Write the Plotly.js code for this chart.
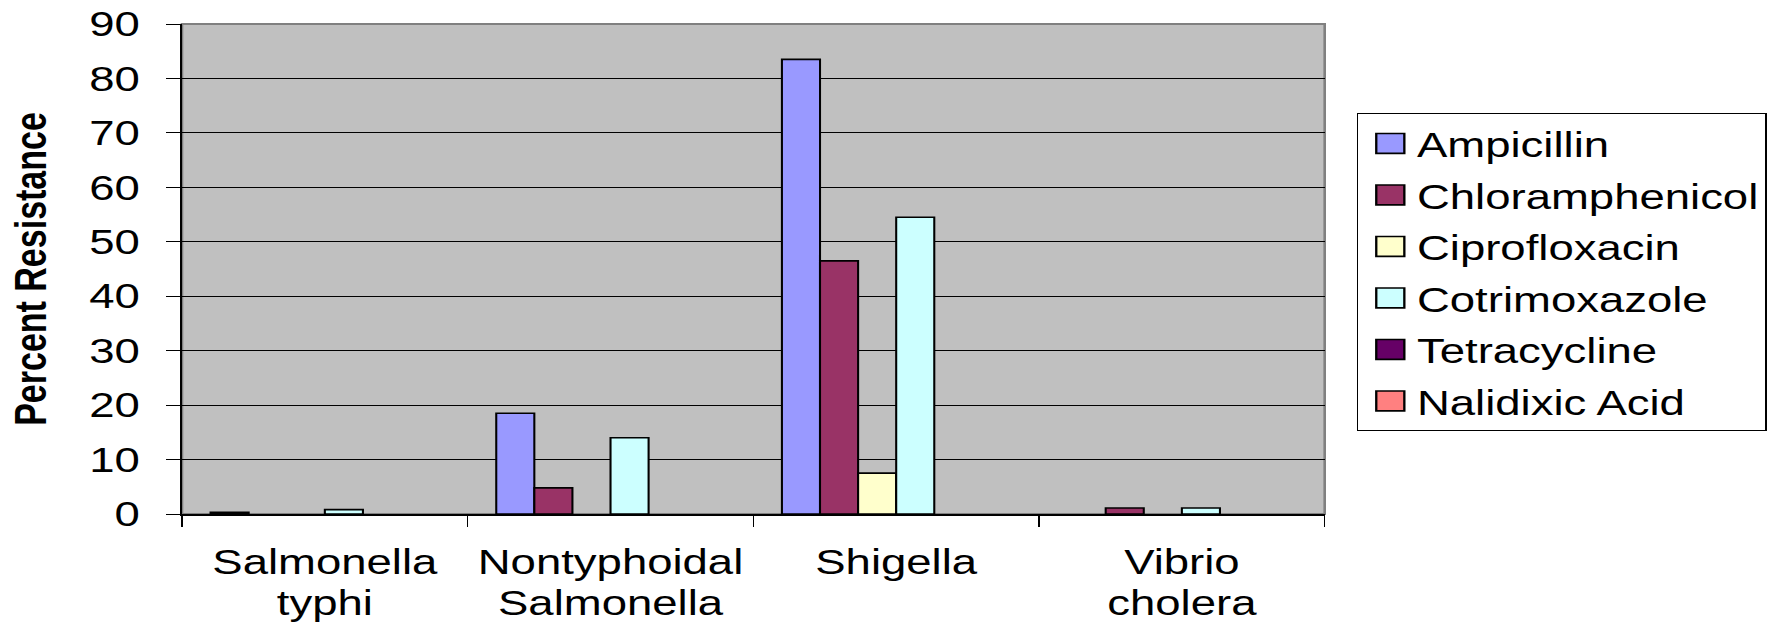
<!DOCTYPE html>
<html>
<head>
<meta charset="utf-8">
<script src="https://cdn.plot.ly/plotly-3.0.1.min.js"></script>
<style>
  html, body { margin: 0; padding: 0; background: #ffffff; overflow: hidden; }
  #wrap { width: 1783px; height: 626px; overflow: hidden; }
  /* chart is laid out narrower and widened horizontally, giving the wide lettering */
  #chart { width: 1372px; height: 626px; transform: scaleX(1.3); transform-origin: 0 0; }
</style>
</head>
<body>
<div id="wrap"><div id="chart"></div></div>
<script>
// Organisms along the x axis
const categories = ["Salmonella<br>typhi", "Nontyphoidal<br>Salmonella", "Shigella", "Vibrio<br>cholera"];

// Percent resistance per antibiotic, one value per organism
const ampicillin      = [0.3, 18.5, 83.5, 0];
const chloramphenicol = [0, 4.8, 46.5, 1.1];
const ciprofloxacin   = [0, 0, 7.5, 0];
const cotrimoxazole   = [0.8, 14, 54.5, 1.1];
const tetracycline    = [0, 0, 0, 0];
const nalidixicAcid   = [0, 0, 0, 0];

const seriesNames  = ["Ampicillin", "Chloramphenicol", "Ciprofloxacin", "Cotrimoxazole", "Tetracycline", "Nalidixic Acid"];
const seriesValues = [ampicillin, chloramphenicol, ciprofloxacin, cotrimoxazole, tetracycline, nalidixicAcid];
const seriesColors = ["#9999FF", "#993366", "#FFFFCC", "#CCFFFF", "#660066", "#FF8080"];

const yTicks = [0, 10, 20, 30, 40, 50, 60, 70, 80, 90];

const FONT = "'Liberation Sans', Arial, sans-serif";

const traces = seriesNames.map((name, i) => ({
  type: "bar",
  name: name,
  x: categories,
  y: seriesValues[i],
  legendgroup: "g" + i,
  marker: {
    color: seriesColors[i],
    // empty bars get no outline, so nothing shows on the baseline
    line: { color: "#000000", width: seriesValues[i].map(v => (v > 0 ? 1.6 : 0)) }
  },
  hoverinfo: "x+y+name"
}));

const layout = {
  width: 1372,
  height: 626,
  margin: { l: 140, r: 353, t: 24, b: 112, pad: 0 },
  paper_bgcolor: "#ffffff",
  plot_bgcolor: "#C0C0C0",
  barmode: "group",
  bargap: 0.2,
  bargroupgap: 0,
  font: { family: FONT, size: 35, color: "#000000" },
  showlegend: true,
  legend: {
    x: 1.0284, xanchor: "left",
    y: 0.818, yanchor: "top",
    bgcolor: "#ffffff",
    bordercolor: "#000000",
    borderwidth: 1,
    font: { family: FONT, size: 35, color: "#000000" },
    traceorder: "grouped",
    tracegroupgap: 3,
    itemwidth: 35
  },
  xaxis: {
    type: "category",
    showline: true, linecolor: "#000000", linewidth: 1.5,
    ticks: "outside", ticklen: 11, tickcolor: "#000000", tickwidth: 1,
    tickson: "boundaries",
    showgrid: false,
    tickfont: { family: FONT, size: 35, color: "#000000" },
    ticklabelstandoff: 17
  },
  yaxis: {
    range: [0, 90],
    tickvals: yTicks,
    ticktext: yTicks.map(String),
    showline: true, linecolor: "#000000", linewidth: 1.5,
    ticks: "outside", ticklen: 11, tickcolor: "#000000", tickwidth: 1,
    showgrid: true, gridcolor: "#000000", gridwidth: 1,
    zeroline: false,
    tickfont: { family: FONT, size: 35, color: "#000000" },
    ticklabelstandoff: 13,
    title: { text: "<b>Percent Resistance</b>", font: { family: FONT, size: 34, color: "#000000" }, standoff: 22 }
  },
  shapes: [{
    type: "rect", xref: "paper", yref: "paper",
    x0: 0, x1: 1, y0: 0, y1: 1,
    line: { color: "#808080", width: 2 },
    layer: "below"
  }]
};

Plotly.newPlot("chart", traces, layout, { staticPlot: true, displayModeBar: false }).then(gd => {
  // larger legend swatches, kept centred where the default ones sit
  gd.querySelectorAll(".legend .legendpoints").forEach(g => {
    g.setAttribute("transform", "translate(-16,0) scale(1.8,1.65)");
    g.querySelectorAll("path").forEach(p => { p.style.strokeWidth = "1px"; p.style.stroke = "#000"; });
  });
  // tighter spacing between the two lines of the category labels
  gd.querySelectorAll(".xtick text tspan.line").forEach(t => {
    if (t.getAttribute("dy") && t.getAttribute("dy") !== "0em") t.setAttribute("dy", "1.17em");
  });
});
</script>
</body>
</html>
